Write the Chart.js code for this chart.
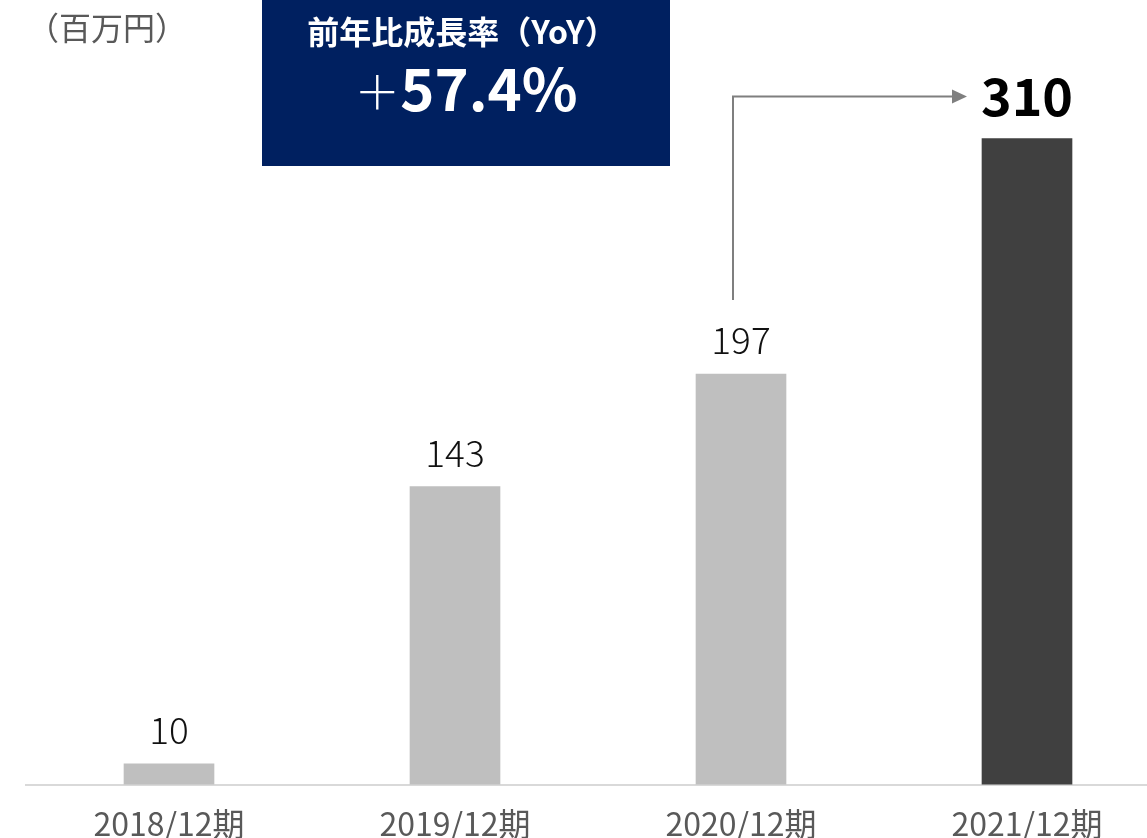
<!DOCTYPE html>
<html>
<head>
<meta charset="utf-8">
<script src="https://cdn.jsdelivr.net/npm/chart.js@4.4.1/dist/chart.umd.min.js"></script>
<style>
html,body{margin:0;padding:0;background:#fff;overflow:hidden;width:1147px;height:838px;}
#wrap{position:absolute;left:0;top:0;width:1180px;height:880px;}
</style>
</head>
<body>
<div id="wrap"><canvas id="c" width="1180" height="880"></canvas></div>
<script>
const categories = ["2018/12期", "2019/12期", "2020/12期", "2021/12期"];
const revenue = [10, 143, 197, 310];
const barColors = ["#bfbfbf", "#bfbfbf", "#bfbfbf", "#404040"];
const unitLabel = "（百万円）";
const yoyTitle = "前年比成長率（YoY）";

const FONT = "'Noto Sans CJK JP', 'Noto Sans', sans-serif";

const annot = {
  id: 'annot',
  afterDatasetsDraw(chart) {
    const ctx = chart.ctx;
    const meta = chart.getDatasetMeta(0);
    const data = chart.data.datasets[0].data;
    const last = data.length - 1;
    ctx.save();
    // unit label
    ctx.fillStyle = '#595959';
    ctx.font = '400 32px ' + FONT;
    ctx.textAlign = 'left';
    ctx.textBaseline = 'middle';
    ctx.fillText(unitLabel, 27, 28);

    // value labels
    ctx.textAlign = 'center';
    data.forEach((v, i) => {
      const el = meta.data[i];
      if (i === last) {
        ctx.fillStyle = '#000000';
        ctx.font = 'bold 52px ' + FONT;
        ctx.fillText(String(v), el.x, el.y - 42);
      } else {
        ctx.fillStyle = '#111111';
        ctx.font = '300 37px ' + FONT;
        ctx.fillText(String(v), el.x, el.y - 34);
      }
    });

    // arrow from previous to last
    const prev = meta.data[last - 1];
    const cur = meta.data[last];
    const ax = prev.x - 8;
    const ay0 = prev.y - 74;
    const ay1 = cur.y - 42;
    const tipX = cur.x - cur.width / 2 - 15;
    ctx.strokeStyle = '#7f7f7f';
    ctx.lineWidth = 2;
    ctx.beginPath();
    ctx.moveTo(ax, ay0);
    ctx.lineTo(ax, ay1);
    ctx.lineTo(tipX - 12, ay1);
    ctx.stroke();
    ctx.fillStyle = '#7f7f7f';
    ctx.beginPath();
    ctx.moveTo(tipX, ay1);
    ctx.lineTo(tipX - 15, ay1 - 7);
    ctx.lineTo(tipX - 15, ay1 + 7);
    ctx.closePath();
    ctx.fill();

    // YoY box
    ctx.fillStyle = '#002060';
    ctx.fillRect(262, 0, 408, 166);
    ctx.fillStyle = '#ffffff';
    ctx.font = 'bold 32px ' + FONT;
    ctx.textAlign = 'center';
    ctx.fillText(yoyTitle, 462, 32);
    const growth = ((data[last] / data[last - 1]) - 1) * 100;
    const numText = growth.toFixed(1) + '%';
    ctx.font = 'bold 58px ' + FONT;
    const wNum = ctx.measureText(numText).width;
    ctx.font = '300 46px ' + FONT;
    const wPlus = ctx.measureText('＋').width;
    const total = wNum + wPlus;
    const startX = 466 - total / 2;
    ctx.textAlign = 'left';
    ctx.fillText('＋', startX, 92);
    ctx.font = 'bold 58px ' + FONT;
    ctx.fillText(numText, startX + wPlus, 89);
    ctx.restore();
  }
};

new Chart(document.getElementById('c'), {
  type: 'bar',
  data: {
    labels: categories,
    datasets: [{
      data: revenue,
      backgroundColor: barColors,
      barThickness: 90,
      borderWidth: 0
    }]
  },
  options: {
    responsive: false,
    animation: false,
    layout: { padding: { left: 26, right: 10, top: 76, bottom: 17 } },
    plugins: { legend: { display: false }, tooltip: { enabled: false } },
    scales: {
      x: {
        grid: { display: false, drawTicks: false },
        border: { display: true, color: '#d9d9d9', width: 2 },
        ticks: { color: '#595959', font: { family: FONT, size: 32 }, padding: 20, maxRotation: 0 }
      },
      y: {
        display: false,
        min: 0,
        max: 340
      }
    }
  },
  plugins: [annot]
});
</script>
</body>
</html>
